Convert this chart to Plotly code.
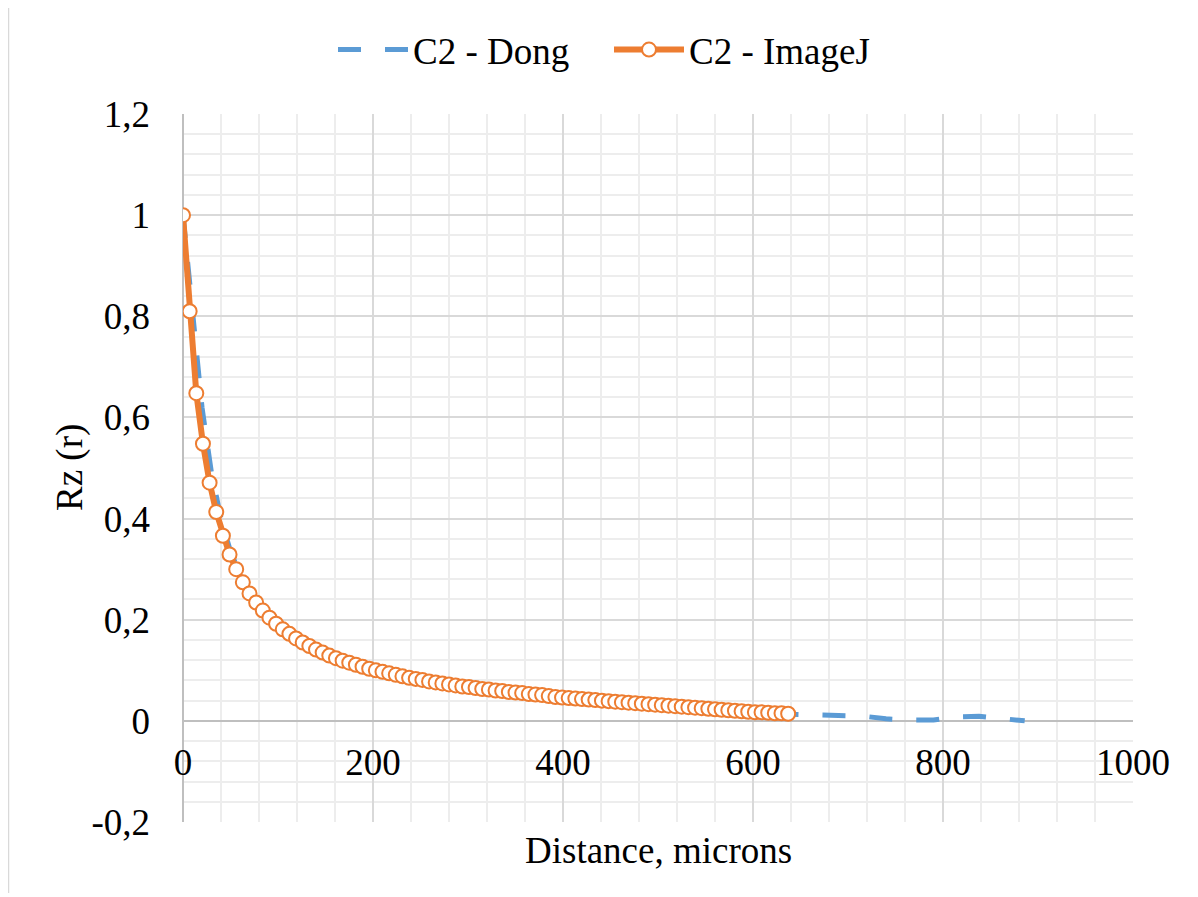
import plotly.graph_objects as go

# ImageJ series (x step 7 microns)
imagej_x = [7 * i for i in range(92)]
imagej_y = [1.000, 0.810, 0.648, 0.548, 0.471, 0.413, 0.366, 0.329, 0.300, 0.274,
            0.252, 0.234, 0.218, 0.204, 0.192, 0.181, 0.172, 0.163, 0.155, 0.148,
            0.141, 0.135, 0.129, 0.124, 0.119, 0.115, 0.111, 0.107, 0.103, 0.100,
            0.097, 0.094, 0.091, 0.088, 0.085, 0.083, 0.081, 0.078, 0.076, 0.074,
            0.072, 0.070, 0.068, 0.067, 0.065, 0.063, 0.062, 0.060, 0.059, 0.057,
            0.056, 0.055, 0.053, 0.052, 0.051, 0.049, 0.047, 0.046, 0.045, 0.044,
            0.043, 0.042, 0.041, 0.040, 0.039, 0.038, 0.037, 0.036, 0.035, 0.034,
            0.033, 0.032, 0.031, 0.030, 0.029, 0.028, 0.027, 0.026, 0.025, 0.024,
            0.023, 0.022, 0.021, 0.020, 0.019, 0.018, 0.017, 0.017, 0.016, 0.015,
            0.015, 0.014]

# Dong series
dong_x = [0, 10, 20, 30, 40, 50, 60, 70, 80, 90, 100, 120, 140, 160, 180, 200,
          250, 300, 350, 400, 450, 500, 550, 600, 640, 690, 715, 740, 765, 790,
          815, 838, 862, 886]
dong_y = [1.000, 0.800, 0.620, 0.490, 0.400, 0.335, 0.290, 0.255, 0.227, 0.205,
          0.188, 0.162, 0.142, 0.126, 0.113, 0.102, 0.082, 0.067, 0.056, 0.047,
          0.039, 0.033, 0.026, 0.019, 0.013, 0.0105, 0.0095, 0.004, 0.0015, 0.0015,
          0.008, 0.009, 0.005, 0.0]

x_tickvals = [0, 200, 400, 600, 800, 1000]
x_ticktext = ["0", "200", "400", "600", "800", "1000"]
y_tickvals = [-0.2, 0, 0.2, 0.4, 0.6, 0.8, 1.0, 1.2]
y_ticktext = ["-0,2", "0", "0,2", "0,4", "0,6", "0,8", "1", "1,2"]

BLUE = "#5B9BD5"
ORANGE = "#ED7D31"
FONT = "Liberation Serif, Times New Roman, serif"
FS = 37

# page has an 8px body margin; figure sized so plot area lands at
# page x 183..1133, y 113..822
OFF = 8
W, H = 1190, 889
L, R, T, B = 175, 65, 105, 75
pw, ph = W - L - R, H - T - B


def px(xp):
    return (xp - OFF - L) / pw


def py(yp):
    return (T + ph - (yp - OFF)) / ph


fig = go.Figure()
fig.add_trace(go.Scatter(
    x=dong_x, y=dong_y, name="C2 - Dong", mode="lines",
    line=dict(color=BLUE, width=5, dash="23px,24px"),
))
fig.add_trace(go.Scatter(
    x=imagej_x, y=imagej_y, name="C2 - ImageJ", mode="lines+markers",
    line=dict(color=ORANGE, width=6),
    marker=dict(symbol="circle", size=14, color="white",
                line=dict(color=ORANGE, width=2)),
))

fig.update_layout(
    width=W, height=H,
    margin=dict(l=L, r=R, t=T, b=B, pad=0),
    paper_bgcolor="white", plot_bgcolor="white",
    font=dict(family=FONT, size=FS, color="black"),
    showlegend=True,
    legend=dict(orientation="h", x=px(333), xanchor="left",
                y=py(50), yanchor="middle",
                font=dict(family=FONT, size=FS), itemwidth=70,
                entrywidth=191, entrywidthmode="pixels",
                bgcolor="rgba(0,0,0,0)", tracegroupgap=0),
    xaxis=dict(range=[0, 1000], tickmode="array", tickvals=x_tickvals,
               ticktext=x_ticktext, showgrid=True, gridcolor="#d9d9d9",
               gridwidth=1.5, zeroline=True, zerolinecolor="#bfbfbf",
               zerolinewidth=2, showline=False, ticks="",
               anchor="free", position=(0 - (-0.2)) / 1.4,
               ticklabelstandoff=16,
               minor=dict(dtick=40, tick0=0, showgrid=True,
                          gridcolor="#ededed", gridwidth=1.5, ticks=""),
               tickfont=dict(family=FONT, size=FS)),
    yaxis=dict(range=[-0.2, 1.2], tickmode="array", tickvals=y_tickvals,
               ticktext=y_ticktext, showgrid=True, gridcolor="#d9d9d9",
               gridwidth=1.5, zeroline=True, zerolinecolor="#bfbfbf",
               zerolinewidth=2, showline=False, ticks="",
               ticklabelstandoff=32, domain=[0, 1],
               minor=dict(dtick=0.04, tick0=0, showgrid=True,
                          gridcolor="#ededed", gridwidth=1.5, ticks=""),
               tickfont=dict(family=FONT, size=FS)),
    annotations=[
        dict(text="Rz (r)", xref="paper", yref="paper",
             x=px(70), y=0.5, xanchor="center", yanchor="middle",
             textangle=-90, showarrow=False, font=dict(family=FONT, size=FS)),
        dict(text="Distance, microns", xref="paper", yref="paper",
             x=px(658), y=py(851), xanchor="center",
             yanchor="middle", showarrow=False, font=dict(family=FONT, size=FS)),
    ],
    shapes=[
        dict(type="line", xref="paper", yref="paper",
             x0=px(8.5), x1=px(8.5), y0=py(0), y1=py(893),
             line=dict(color="#d9d9d9", width=1.5)),
    ],
)

fig.write_html("out.html")
